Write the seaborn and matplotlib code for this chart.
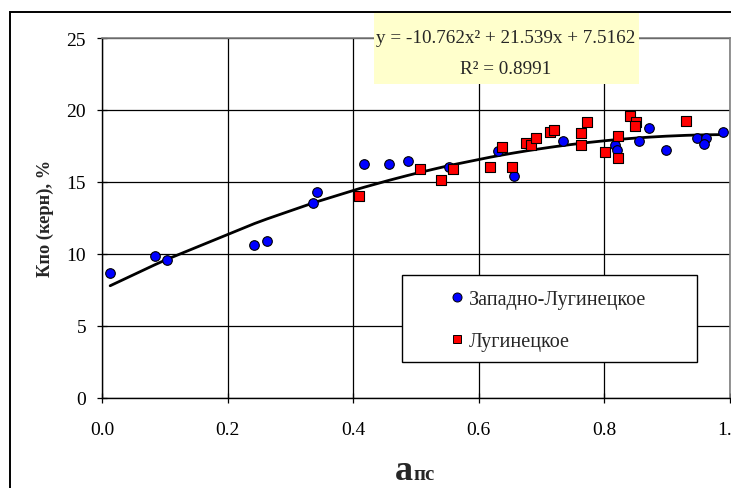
import numpy as np
import pandas as pd
import matplotlib
matplotlib.use("Agg")
import matplotlib.pyplot as plt
from matplotlib.patches import Rectangle
from matplotlib.lines import Line2D
import seaborn as sns

# ---------------- data ----------------
west_x = [0.013, 0.084, 0.103, 0.243, 0.263, 0.337, 0.342, 0.418, 0.458, 0.487,
          0.553, 0.631, 0.657, 0.735, 0.818, 0.821, 0.855, 0.871, 0.899, 0.949,
          0.963, 0.959, 0.989]
west_y = [8.68, 9.88, 9.60, 10.63, 10.93, 13.52, 14.33, 16.27, 16.27, 16.48,
          16.02, 17.13, 15.40, 17.83, 17.55, 17.22, 17.83, 18.75, 17.22, 18.03,
          18.03, 17.62, 18.45]
lug_x = [0.410, 0.506, 0.541, 0.560, 0.619, 0.637, 0.654, 0.676, 0.683, 0.692,
         0.714, 0.720, 0.763, 0.763, 0.773, 0.801, 0.823, 0.823, 0.841, 0.851,
         0.849, 0.931]
lug_y = [14.00, 15.90, 15.16, 15.90, 16.06, 17.41, 16.06, 17.71, 17.60, 18.03,
         18.45, 18.63, 18.42, 17.60, 19.17, 17.10, 18.17, 16.69, 19.58, 19.19,
         18.87, 19.26]
series_names = ["Западно-Лугинецкое", "Лугинецкое"]
trend_coef = [-10.762, 21.539, 7.5162]   # from the chart's equation
r2_value = 0.8991
x_ticks = [0.0, 0.2, 0.4, 0.6, 0.8, 1.0]
y_ticks = [0, 5, 10, 15, 20, 25]
x_label_main, x_label_sub = "a", "пс"
y_label = "Кпо (керн), %"

# ---------------- style ----------------
sns.set_style("white")
plt.rcParams["font.family"] = ["Liberation Serif", "DejaVu Serif"]

W, H = 731, 489
fig = plt.figure(figsize=(W / 100, H / 100), dpi=100)
ax = fig.add_axes([102 / W, 1 - 399 / H, (729.5 - 102) / W, 360 / H])

df_w = pd.DataFrame({"x": west_x, "y": west_y})
df_l = pd.DataFrame({"x": lug_x, "y": lug_y})
all_x = np.sort(np.array(west_x + lug_x))
df_t = pd.DataFrame({"x": all_x, "y": np.polyval(trend_coef, all_x)})

sns.lineplot(data=df_t, x="x", y="y", color="black", lw=2.0, sort=True,
             estimator=None, ax=ax, zorder=3)
sns.scatterplot(data=df_w, x="x", y="y", marker="o", color="#0000FF",
                edgecolor="black", linewidth=0.8, s=48, ax=ax, zorder=4)
sns.scatterplot(data=df_l, x="x", y="y", marker="s", color="#FF0000",
                edgecolor="black", linewidth=0.8, s=44, ax=ax, zorder=4)

ax.set_xlim(0, 1.0)
ax.set_ylim(0, 25)
ax.set_xticks(x_ticks)
ax.set_xticklabels([f"{v:.1f}" for v in x_ticks])
ax.set_yticks(y_ticks)
ax.set_yticklabels([str(v) for v in y_ticks])
ax.grid(True, color="black", lw=0.9)
ax.set_axisbelow(True)
for s in ["left", "bottom"]:
    ax.spines[s].set_color("black")
    ax.spines[s].set_linewidth(1.0)
for s in ["top", "right"]:
    ax.spines[s].set_color("#808080")
    ax.spines[s].set_linewidth(1.2)
ax.tick_params(axis="both", direction="inout", length=7, width=0.9,
               colors="black", labelsize=14, left=True, bottom=True)
ax.tick_params(axis="y", pad=8)
ax.tick_params(axis="x", pad=13)
ax.set_xlabel("")
ax.set_ylabel("")

# y label
fig.text(45 / W, 1 - 218 / H, y_label, rotation=90, ha="center", va="center",
         fontsize=13.2, fontweight="bold")
# x label
fig.text(413.5 / W, 1 - 480 / H, x_label_main, ha="right", va="baseline",
         fontsize=26, fontweight="bold")
fig.text(413.5 / W, 1 - 480 / H, x_label_sub, ha="left", va="baseline",
         fontsize=15, fontweight="bold")

# legend
lw_frame = Rectangle((402 / W, 1 - 363 / H), 295 / W, 87 / H,
                     transform=fig.transFigure, facecolor="white",
                     edgecolor="black", lw=1.0, zorder=5)
fig.add_artist(lw_frame)
handles = [Line2D([], [], ls="", marker="o", markersize=6.5, markerfacecolor="#0000FF",
                  markeredgecolor="black", markeredgewidth=0.7),
           Line2D([], [], ls="", marker="s", markersize=6.0, markerfacecolor="#FF0000",
                  markeredgecolor="black", markeredgewidth=0.7)]
leg = fig.legend(handles, series_names, loc="upper left",
                 bbox_to_anchor=(450 / W, 1 - 291 / H), bbox_transform=fig.transFigure,
                 frameon=False, fontsize=14.5, handlelength=0.7, handletextpad=0.25,
                 borderpad=0, borderaxespad=0, labelspacing=1.15)
leg.set_zorder(6)

# equation box
eq_box = Rectangle((374 / W, 1 - 85 / H), 265 / W, 72 / H, transform=fig.transFigure,
                   facecolor="#FFFFCC", edgecolor="none", zorder=5)
fig.add_artist(eq_box)
t1 = fig.text(506 / W, 1 - 43 / H,
              f"y = {trend_coef[0]}x² + {trend_coef[1]}x + {trend_coef[2]}",
              ha="center", va="baseline", fontsize=13.8)
t2 = fig.text(506 / W, 1 - 74 / H, f"R² = {r2_value}", ha="center", va="baseline",
              fontsize=13.8)
t1.set_zorder(6)
t2.set_zorder(6)

# outer chart frame
frame = Rectangle((10 / W, -0.1), 1.2, 1.1 - 13 / H, transform=fig.transFigure,
                  facecolor="none", edgecolor="black", lw=1.4, zorder=7)
fig.add_artist(frame)

fig.savefig("out.png", dpi=100)
